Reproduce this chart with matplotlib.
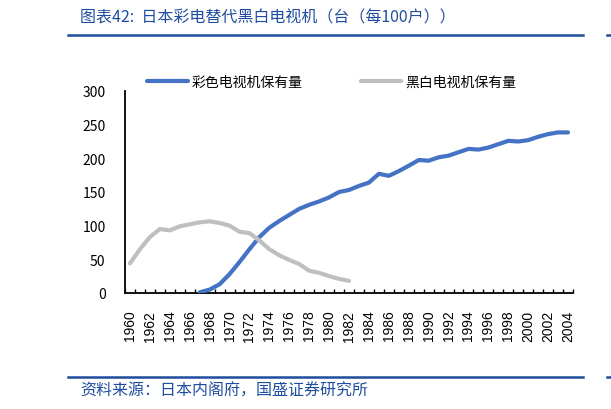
import matplotlib
matplotlib.use('Agg')
import matplotlib.pyplot as plt
from matplotlib.lines import Line2D

# data (units per 100 households)
bw_years = list(range(1960, 1983))
bw_values = [44, 65, 83, 95, 93, 99, 102, 105, 106.5, 104, 100, 91, 89, 78,
             65, 56, 49, 43, 33, 30, 25, 21, 18]
color_years = list(range(1967, 2005))
color_values = [1, 5, 13, 28, 46, 65, 83, 97, 107, 116, 125, 131, 136, 142,
                150, 153, 159, 164, 177, 174, 181, 189, 197.5, 196.5, 201.5,
                204, 209, 214, 213, 216, 221, 226, 225, 227, 232, 236, 238.5,
                238.5]
tick_years = list(range(1960, 2005, 2))
y_ticks = [0, 50, 100, 150, 200, 250, 300]

title = '图表42:  日本彩电替代黑白电视机（台（每100户））'
source = '资料来源：日本内阁府，国盛证券研究所'
label_color = '彩色电视机保有量'
label_bw = '黑白电视机保有量'

cjk = ['Noto Sans CJK SC', 'DejaVu Sans']
dark_blue = '#1f4d9e'

fig = plt.figure(figsize=(6.11, 4.10), dpi=100)
ax = fig.add_axes([125 / 611, 1 - 294 / 410, 448 / 611, 202 / 410])

ax.plot(color_years, color_values, color='#4472c4', lw=3, solid_capstyle='round',
        label=label_color, zorder=3)
ax.plot(bw_years, bw_values, color='#bfbfbf', lw=3, solid_capstyle='round',
        label=label_bw, zorder=4)

ax.set_xlim(1959.5, 2004.5)
ax.set_ylim(0, 300)
ax.set_yticks(y_ticks)
ax.set_xticks(tick_years)
ax.set_xticks([y + 0.5 for y in range(1959, 2005)], minor=True)

for s in ['top', 'right']:
    ax.spines[s].set_visible(False)
for s in ['left', 'bottom']:
    ax.spines[s].set_linewidth(1.3)
    ax.spines[s].set_color('black')

ax.tick_params(axis='y', length=0, pad=14)
ax.tick_params(axis='x', which='major', length=0, pad=12)
ax.tick_params(axis='x', which='minor', direction='in', length=3, width=1)

for lab in ax.get_yticklabels():
    lab.set_family(cjk)
    lab.set_fontsize(10)
for lab in ax.get_xticklabels():
    lab.set_family('Liberation Sans')
    lab.set_fontsize(10)
    lab.set_rotation(90)

leg = ax.legend(loc='center', bbox_to_anchor=(0.462, 1.045), ncol=2,
                frameon=False, borderpad=0, handlelength=2.9,
                handletextpad=0.3, columnspacing=4.2,
                prop={'family': cjk, 'size': 10})

fig.text(80 / 611, 1 - 18 / 410, title, family=cjk, fontsize=11.5,
         color=dark_blue, va='center', ha='left')
fig.text(80 / 611, 1 - 391 / 410, source, family=cjk, fontsize=11.5,
         color=dark_blue, va='center', ha='left')

# header and footer rules
for yy in [36, 378]:
    fig.add_artist(Line2D([68 / 611, 583 / 611], [1 - yy / 410] * 2,
                          color=dark_blue, lw=1.8))
    fig.add_artist(Line2D([607 / 611, 1.0], [1 - yy / 410] * 2,
                          color=dark_blue, lw=1.8))

fig.savefig('out.png', dpi=100)
